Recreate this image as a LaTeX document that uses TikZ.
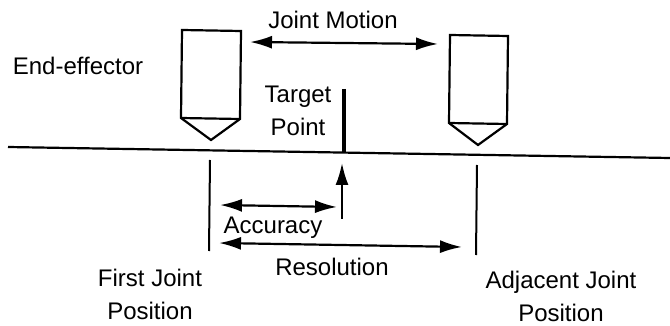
\documentclass[tikz,border=0pt]{standalone}
\usepackage{fontspec}
\setmainfont{Liberation Sans}
\usepackage{tikz}
\usetikzlibrary{arrows.meta, positioning}
\tikzstyle{caption}=[inner sep=0pt, align=center, font=\fontsize{24}{33}\selectfont]
\tikzstyle{tool}=[draw, line width=2.2pt, line join=miter]
\tikzstyle{tick}=[line width=2pt]
\tikzstyle{dim}=[line width=2.2pt, {Latex[length=22pt,width=13pt]}-{Latex[length=22pt,width=13pt]}]

\begin{document}
\begin{tikzpicture}[x=1pt, y=-1pt]
    \useasboundingbox (0,0) rectangle (670,326);

    % Ground line:
    \coordinate (g0) at (8,147);
    \coordinate (g1) at (670,158);
    \draw[line width=2.2pt] (g0) -- (g1);

    % Left end-effector:
    \coordinate (a0) at (182,30);
    \coordinate (a1) at (241,31);
    \coordinate (a2) at (240,119);
    \coordinate (a3) at (181,118);
    \coordinate (a4) at (211,140);
    \draw[tool] (a0) -- (a1) -- (a2) -- (a4) -- (a3) -- cycle;
    \draw[tool] (a3) -- (a2);

    % Right end-effector:
    \coordinate (b0) at (450,35);
    \coordinate (b1) at (508,36);
    \coordinate (b2) at (507,124);
    \coordinate (b3) at (449,123);
    \coordinate (b4) at (478,145);
    \draw[tool] (b0) -- (b1) -- (b2) -- (b4) -- (b3) -- cycle;
    \draw[tool] (b3) -- (b2);

    % Target bar and position marks:
    \coordinate (t0) at (344,89);
    \coordinate (t1) at (344,152);
    \draw[line width=3.4pt] (t0) -- (t1);
    \coordinate (p0) at (210,160);
    \coordinate (p1) at (209,251);
    \draw[tick] (p0) -- (p1);
    \coordinate (q0) at (477,165);
    \coordinate (q1) at (476,255);
    \draw[tick] (q0) -- (q1);

    % Arrows:
    \coordinate (m0) at (250,42);
    \coordinate (m1) at (438,44);
    \draw[dim] (m0) -- (m1);
    \coordinate (c0) at (220,205);
    \coordinate (c1) at (337,207);
    \draw[dim] (c0) -- (c1);
    \coordinate (r0) at (219,243);
    \coordinate (r1) at (462,247);
    \draw[dim] (r0) -- (r1);
    \coordinate (u0) at (342,219);
    \coordinate (u1) at (342,163);
    \draw[line width=2.2pt, -{Latex[length=22pt,width=13pt]}] (u0) -- (u1);

    % Labels:
    \node[caption] (motion) at (333,20) {Joint Motion};
    \node[caption] (effector) at (78,66) {End-effector};
    \node[caption] (target) at (298,111) {Target\\Point};
    \node[caption] (accuracy) at (273,228) {Accuracy};
    \node[caption] (resolution) at (332,267) {Resolution};
    \node[caption] (first) at (150,294) {First Joint\\Position};
    \node[caption] (adjacent) at (561,296) {Adjacent Joint\\Position};
\end{tikzpicture}
\end{document}
